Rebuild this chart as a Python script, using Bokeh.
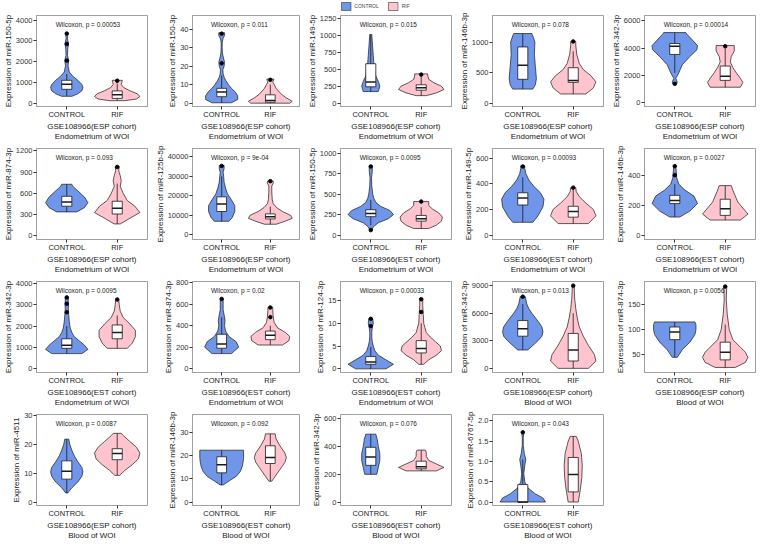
from bokeh.plotting import figure
from bokeh.layouts import gridplot, column
from bokeh.models import Range1d, FixedTicker, Legend, LegendItem, Label
from bokeh.embed import file_html
from bokeh.resources import INLINE

groups = ["CONTROL", "RIF"]
group_colors = ["#6F96E8", "#FFC4CE"]

mirna = ["miR-150-5p", "miR-150-3p", "miR-149-5p", "miR-146b-3p", "miR-342-3p",
         "miR-874-3p", "miR-125b-5p", "miR-150-5p", "miR-149-5p", "miR-146b-3p",
         "miR-342-3p", "miR-874-3p", "miR-124-3p", "miR-342-3p", "miR-874-3p",
         "miR-4511", "miR-146b-3p", "miR-342-3p", "miR-6767-5p"]
cohort = ["ESP", "ESP", "ESP", "ESP", "ESP",
          "ESP", "ESP", "EST", "EST", "EST",
          "EST", "EST", "EST", "ESP", "ESP",
          "ESP", "EST", "EST", "EST"]
tissue = ["Endometrium of WOI"] * 13 + ["Blood of WOI"] * 6
pvalue = ["0.00053", "0.011", "0.015", "0.078", "0.00014",
          "0.093", "9e-04", "0.0095", "0.00093", "0.0027",
          "0.0095", "0.02", "0.00033", "0.013", "0.0056",
          "0.0087", "0.092", "0.076", "0.043"]
ylims = [(-160, 4220), (-1.8, 47.3), (-50, 1290), (-55, 1435), (-260, 6400),
         (-50, 1235), (-2300, 44200), (-55, 1060), (-34, 675), (-30, 578),
         (-190, 4100), (-36, 812), (-0.8, 19.2), (-450, 9450), (15, 195),
         (-1.1, 30.3), (-1.5, 37.5), (-25, 632), (-0.086, 2.16)]
yticks = [[0, 1000, 2000, 3000, 4000], [0, 10, 20, 30, 40], [0, 250, 500, 750, 1000, 1250],
          [0, 500, 1000], [0, 2000, 4000, 6000],
          [0, 300, 600, 900, 1200], [0, 10000, 20000, 30000, 40000], [0, 250, 500, 750, 1000],
          [0, 200, 400, 600], [0, 200, 400],
          [0, 1000, 2000, 3000, 4000], [0, 200, 400, 600, 800], [0, 5, 10, 15],
          [0, 3000, 6000, 9000], [50, 100, 150],
          [0, 10, 20, 30], [0, 10, 20, 30], [0, 200, 400, 600], [0, 0.5, 1.0, 1.5, 2.0]]

# violin outlines: y positions and half-widths (x units)
ctrl_vy = [[330, 450, 600, 750, 900, 1100, 1300, 1500, 1800, 2050, 2300, 2600, 2850, 3100, 3380],
           [0.2, 2, 4, 6, 8, 10, 12, 14, 16, 18, 20, 22, 24, 27, 30, 33, 35, 36.5, 38],
           [170, 250, 300, 400, 500, 600, 700, 800, 900, 1010],
           [230, 300, 400, 600, 800, 1000, 1100, 1140],
           [1400, 1550, 1800, 2200, 2800, 3400, 3900, 4200, 4600, 5000, 5150],
           [340, 400, 470, 550, 650, 700, 730],
           [7000, 9000, 12000, 15000, 18000, 21000, 24000, 27000, 30000, 32000, 34000, 35500],
           [60, 100, 150, 200, 250, 300, 350, 400, 450, 500, 600, 700, 780, 840],
           [100, 150, 220, 280, 330, 380, 430, 480, 520, 540],
           [120, 160, 210, 260, 300, 340, 380, 420, 460],
           [700, 900, 1100, 1300, 1500, 1700, 1900, 2200, 2500, 2800, 3000, 3200, 3350],
           [140, 200, 250, 300, 350, 400, 450, 500, 550, 600, 650],
           [0, 1, 2, 3, 4, 5, 6, 7, 8, 9, 10, 11],
           [2000, 2500, 3000, 3500, 4000, 4500, 5000, 5500, 6000, 6500, 7000, 7800],
           [45, 60, 75, 90, 100, 110, 115],
           [3.2, 5, 7, 9, 10.5, 12, 14, 16, 18, 20, 21.8],
           [7.3, 9, 11, 13, 15, 17, 19, 21, 22.2],
           [200, 250, 300, 350, 400, 450, 490],
           [0, 0.1, 0.2, 0.35, 0.5, 0.7, 0.9, 1.05, 1.2, 1.4, 1.6, 1.72]]
ctrl_vw = [[0.10, 0.22, 0.30, 0.32, 0.30, 0.22, 0.12, 0.05, 0.025, 0.04, 0.015, 0.02, 0.035, 0.015, 0.02],
           [0.2, 0.33, 0.33, 0.28, 0.2, 0.14, 0.09, 0.05, 0.03, 0.025, 0.05, 0.06, 0.04, 0.015, 0.01, 0.012, 0.03, 0.06, 0.06],
           [0.15, 0.18, 0.16, 0.10, 0.07, 0.06, 0.05, 0.04, 0.03, 0.02],
           [0.20, 0.25, 0.27, 0.25, 0.23, 0.24, 0.20, 0.18],
           [0.04, 0.05, 0.02, 0.08, 0.15, 0.30, 0.44, 0.45, 0.35, 0.25, 0.22],
           [0.20, 0.35, 0.42, 0.35, 0.20, 0.12, 0.10],
           [0.15, 0.22, 0.27, 0.27, 0.20, 0.12, 0.08, 0.05, 0.04, 0.03, 0.05, 0.05],
           [0.02, 0.05, 0.15, 0.35, 0.45, 0.38, 0.20, 0.10, 0.06, 0.04, 0.02, 0.015, 0.03, 0.03],
           [0.20, 0.30, 0.40, 0.42, 0.35, 0.22, 0.12, 0.06, 0.04, 0.04],
           [0.10, 0.30, 0.45, 0.38, 0.20, 0.08, 0.04, 0.03, 0.02],
           [0.30, 0.42, 0.35, 0.25, 0.15, 0.10, 0.07, 0.05, 0.04, 0.03, 0.035, 0.03, 0.03],
           [0.20, 0.35, 0.30, 0.15, 0.08, 0.06, 0.07, 0.05, 0.03, 0.03, 0.03],
           [0.30, 0.45, 0.30, 0.15, 0.08, 0.05, 0.03, 0.02, 0.02, 0.03, 0.05, 0.04],
           [0.10, 0.20, 0.30, 0.38, 0.40, 0.38, 0.32, 0.25, 0.18, 0.12, 0.08, 0.05],
           [0.05, 0.15, 0.30, 0.40, 0.42, 0.42, 0.40],
           [0.02, 0.10, 0.22, 0.30, 0.32, 0.30, 0.22, 0.15, 0.10, 0.06, 0.04],
           [0.03, 0.15, 0.30, 0.38, 0.42, 0.44, 0.45, 0.45, 0.45],
           [0.12, 0.15, 0.18, 0.18, 0.15, 0.13, 0.10],
           [0.45, 0.40, 0.25, 0.10, 0.04, 0.02, 0.04, 0.06, 0.03, 0.01, 0.01, 0.02]]
rif_vy = [[120, 200, 320, 450, 600, 750, 900, 1000, 1100],
          [0, 1, 3, 5, 8, 10, 11.5, 12.5, 13],
          [110, 150, 200, 250, 300, 350, 400, 430],
          [150, 250, 350, 450, 550, 650, 800, 950, 1010],
          [1150, 1500, 1800, 2200, 2600, 3000, 3400, 3800, 4200],
          [170, 250, 330, 420, 500, 600, 700, 780, 850, 920, 980],
          [5500, 7000, 8500, 10000, 12000, 14000, 16000, 18000, 22000, 25000, 26500, 27500],
          [80, 120, 170, 220, 270, 320, 360, 410],
          [90, 150, 200, 250, 300, 340, 370],
          [100, 140, 180, 220, 260, 300, 330],
          [950, 1200, 1500, 1800, 2100, 2400, 2700, 3000, 3250],
          [220, 260, 300, 340, 380, 430, 480, 540, 570],
          [1, 2, 3, 4, 5, 6, 7, 8, 10, 12, 14, 15.5],
          [0, 800, 1500, 2500, 3500, 4500, 5500, 6500, 7500, 8500, 9000],
          [25, 35, 45, 55, 65, 80, 100, 130, 160, 185],
          [9.3, 11, 13, 15, 17, 19, 21, 23, 23.8],
          [8.9, 11, 14, 17, 19, 21, 24, 27, 29.2],
          [225, 250, 275, 300, 330, 360, 375],
          [0, 0.3, 0.6, 0.9, 1.2, 1.5, 1.62]]
rif_vw = [[0.15, 0.38, 0.45, 0.40, 0.25, 0.13, 0.08, 0.09, 0.10],
          [0.40, 0.45, 0.32, 0.22, 0.12, 0.08, 0.05, 0.07, 0.07],
          [0.10, 0.30, 0.45, 0.40, 0.25, 0.15, 0.13, 0.13],
          [0.25, 0.40, 0.45, 0.35, 0.20, 0.12, 0.07, 0.05, 0.05],
          [0.30, 0.35, 0.30, 0.22, 0.15, 0.10, 0.12, 0.18, 0.18],
          [0.06, 0.25, 0.45, 0.35, 0.20, 0.12, 0.06, 0.08, 0.06, 0.03, 0.04],
          [0.12, 0.30, 0.45, 0.42, 0.25, 0.13, 0.06, 0.04, 0.03, 0.03, 0.06, 0.06],
          [0.15, 0.30, 0.40, 0.42, 0.35, 0.22, 0.15, 0.15],
          [0.30, 0.45, 0.40, 0.25, 0.12, 0.06, 0.05],
          [0.30, 0.45, 0.35, 0.25, 0.20, 0.15, 0.12],
          [0.20, 0.30, 0.36, 0.36, 0.25, 0.12, 0.06, 0.04, 0.03],
          [0.25, 0.38, 0.40, 0.30, 0.15, 0.08, 0.06, 0.05, 0.05],
          [0.05, 0.15, 0.30, 0.40, 0.38, 0.28, 0.18, 0.10, 0.05, 0.04, 0.03, 0.03],
          [0.30, 0.45, 0.42, 0.30, 0.20, 0.12, 0.08, 0.05, 0.03, 0.02, 0.02],
          [0.20, 0.40, 0.45, 0.40, 0.30, 0.15, 0.08, 0.04, 0.02, 0.03],
          [0.05, 0.15, 0.30, 0.42, 0.45, 0.38, 0.25, 0.12, 0.08],
          [0.03, 0.10, 0.20, 0.30, 0.33, 0.30, 0.20, 0.12, 0.10],
          [0.30, 0.45, 0.30, 0.15, 0.10, 0.10, 0.08],
          [0.10, 0.14, 0.17, 0.18, 0.16, 0.10, 0.06]]

# box stats: lower whisker, q1, median, q3, upper whisker
ctrl_box = [[340, 667, 913, 1100, 1400], [0.2, 3.5, 6, 8, 15], [170, 240, 310, 580, 1010],
            [230, 390, 620, 920, 1140], [2200, 3550, 4150, 4350, 5150],
            [340, 420, 480, 560, 730], [7000, 12000, 15800, 19500, 30000], [120, 225, 265, 310, 430],
            [100, 235, 290, 330, 450], [120, 210, 230, 265, 340],
            [700, 950, 1100, 1400, 2000], [140, 190, 230, 320, 480], [0, 1.0, 1.5, 2.7, 4.8],
            [2000, 3500, 4300, 5200, 7000], [45, 80, 95, 105, 115],
            [3.2, 8, 10.7, 14.3, 21.8], [7.3, 12.5, 16, 19.4, 22.2], [200, 265, 325, 395, 490],
            [0, 0, 0, 0.43, 1.05]]
rif_box = [[120, 230, 405, 590, 950], [0, 0.5, 1.5, 4.5, 10], [110, 190, 225, 270, 390],
           [150, 340, 370, 580, 850], [1150, 1650, 1950, 2700, 4000],
           [170, 310, 390, 490, 740], [5500, 8200, 9300, 10800, 14500], [80, 170, 200, 240, 340],
           [90, 140, 185, 225, 350], [100, 131, 175, 239, 330],
           [950, 1400, 1700, 2050, 2500], [220, 270, 310, 350, 400], [1, 3.5, 4.5, 6.2, 10],
           [0, 800, 2000, 3800, 6000], [25, 40, 55, 75, 110],
           [9.3, 14.7, 16.8, 18.5, 23.8], [8.9, 16.5, 19.1, 24.1, 29.2], [225, 240, 255, 295, 375],
           [0, 0.25, 0.68, 1.1, 1.62]]
ctrl_out = [[2050, 2850, 3350], [21.5, 37.5], [], [], [1400],
            [], [35300], [60, 840], [535], [400, 460],
            [2650, 3050, 3350], [650], [9.4, 11], [7800], [],
            [], [], [], [1.72]]
rif_out = [[1080], [12.6], [420], [1010], [4150],
           [975], [27500], [410], [370], [],
           [3250], [480, 570], [12.5, 15.3], [9000], [185],
           [], [], [], []]

FONT = "Liberation Sans"
GREY = "#A0A0A0"
INK = "#1A1A1A"


def make_panel(i):
    y0, y1 = ylims[i]
    p = figure(width=152, height=133, output_backend="svg", toolbar_location=None,
               x_range=Range1d(0.4, 2.6), y_range=Range1d(y0, y1),
               min_border_left=0, min_border_right=5, min_border_top=4, min_border_bottom=0)
    p.grid.visible = False
    p.outline_line_color = GREY
    p.outline_line_width = 1

    for gx, vy, vw, box, outs, col in [
        (1, ctrl_vy[i], ctrl_vw[i], ctrl_box[i], ctrl_out[i], group_colors[0]),
        (2, rif_vy[i], rif_vw[i], rif_box[i], rif_out[i], group_colors[1]),
    ]:
        xs = [gx - w for w in vw] + [gx + w for w in reversed(vw)]
        ys = list(vy) + list(reversed(vy))
        p.patch(xs, ys, fill_color=col, line_color=INK, line_width=0.7)
        lo, q1, med, q3, hi = box
        p.segment(x0=[gx, gx], y0=[lo, q3], x1=[gx, gx], y1=[q1, hi],
                  line_color=INK, line_width=0.8)
        p.quad(left=[gx - 0.1], right=[gx + 0.1], bottom=[q1], top=[q3],
               fill_color="white", line_color=INK, line_width=0.8)
        p.segment(x0=[gx - 0.1], y0=[med], x1=[gx + 0.1], y1=[med],
                  line_color=INK, line_width=1.5)
        if outs:
            p.scatter(x=[gx] * len(outs), y=outs, size=3.5, color="black")

    p.add_layout(Label(x=0.78, y=y0 + 0.9 * (y1 - y0), text="Wilcoxon, p = " + pvalue[i],
                       text_font=FONT, text_font_size="6.5px", text_baseline="middle",
                       text_align="left", text_color=INK))

    p.xaxis.ticker = FixedTicker(ticks=[1, 2])
    p.xaxis.major_label_overrides = {1: groups[0], 2: groups[1]}
    p.yaxis.ticker = FixedTicker(ticks=yticks[i])
    if i == 18:
        p.yaxis.major_label_overrides = {t: "%.1f" % t for t in yticks[i]}
    p.xaxis.axis_label = "GSE108966(%s cohort)\n%s" % (cohort[i], tissue[i])
    p.yaxis.axis_label = "Expression of " + mirna[i]
    for ax in (p.xaxis, p.yaxis):
        ax.axis_line_color = GREY
        ax.major_tick_line_color = "#333333"
        ax.major_tick_out = 3
        ax.major_tick_in = 0
        ax.minor_tick_line_color = None
        ax.major_label_text_font = FONT
        ax.major_label_text_font_size = "7.5px"
        ax.major_label_text_color = "#333333"
        ax.major_label_standoff = 1
        ax.axis_label_text_font = FONT
        ax.axis_label_text_font_size = "8px"
        ax.axis_label_text_font_style = "normal"
        ax.axis_label_text_color = INK
        ax.axis_label_standoff = 0
    p.xaxis.major_label_standoff = 0
    p.xaxis.major_label_text_color = INK
    return p


panels = [make_panel(i) for i in range(len(mirna))]
rows = [panels[0:5], panels[5:10], panels[10:15], panels[15:19] + [None]]
grid = gridplot(rows, toolbar_location=None)

# legend strip (hidden key renderers lie outside the strip's visible range)
leg = figure(width=761, height=11, x_range=(0, 1), y_range=(0, 1), output_backend="svg",
             toolbar_location=None, x_axis_type=None, y_axis_type=None, min_border=0)
leg.grid.visible = False
leg.outline_line_color = None
key_pos = [-5]
r1 = leg.quad(left=key_pos, right=key_pos, top=key_pos, bottom=key_pos,
              fill_color=group_colors[0], line_color="#333333", line_width=0.6)
r2 = leg.quad(left=key_pos, right=key_pos, top=key_pos, bottom=key_pos,
              fill_color=group_colors[1], line_color="#333333", line_width=0.6)
legend = Legend(items=[LegendItem(label=groups[0], renderers=[r1]),
                       LegendItem(label=groups[1], renderers=[r2])],
                orientation="horizontal", location="center",
                label_text_font=FONT, label_text_font_size="5px",
                glyph_width=12, glyph_height=10, label_standoff=3, spacing=8,
                padding=0, margin=0, border_line_color=None, background_fill_alpha=0)
leg.add_layout(legend, "center")

layout = column(leg, grid)
open("out.html", "w").write(file_html(layout, INLINE))
